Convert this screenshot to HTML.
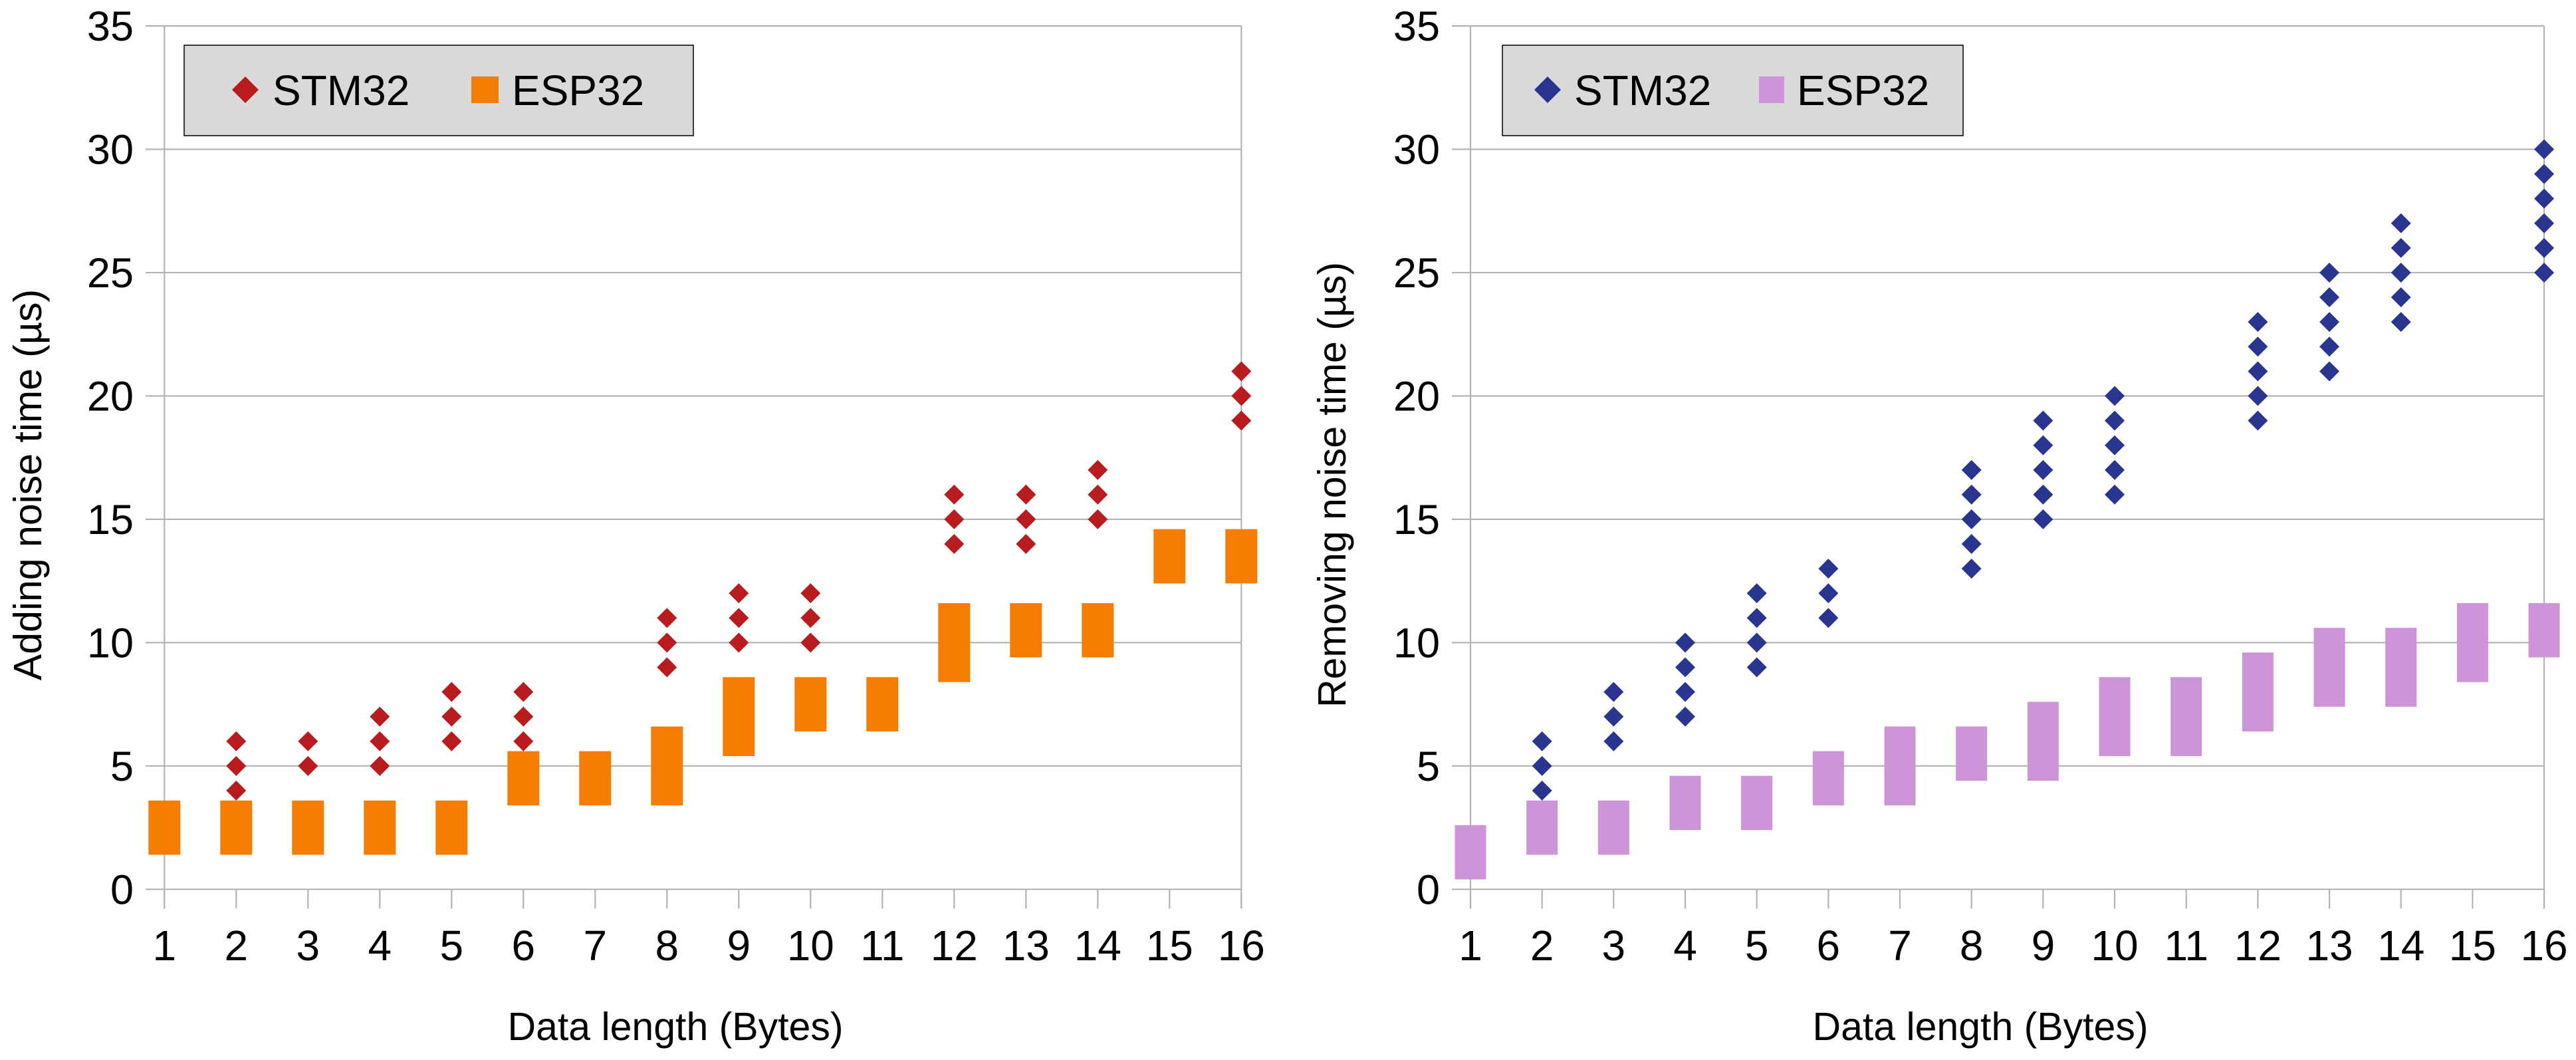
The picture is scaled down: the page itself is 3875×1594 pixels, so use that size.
<!DOCTYPE html>
<html><head><meta charset="utf-8"><style>
html,body{margin:0;padding:0;background:#fff}
svg{display:block;font-family:"Liberation Sans",sans-serif}
</style></head><body>
<svg id="s" width="3875" height="1594" viewBox="0 0 3875 1594"></svg>
<script>
const categories=[1,2,3,4,5,6,7,8,9,10,11,12,13,14,15,16];
const yTicks=[0,5,10,15,20,25,30,35];
const addEspLow=[1.4,1.4,1.4,1.4,1.4,3.4,3.4,3.4,5.4,6.4,6.4,8.4,9.4,9.4,12.4,12.4];
const addEspHigh=[3.6,3.6,3.6,3.6,3.6,5.6,5.6,6.6,8.6,8.6,8.6,11.6,11.6,11.6,14.6,14.6];
const addStm=[[],[4,5,6],[5,6],[5,6,7],[6,7,8],[6,7,8],[],[9,10,11],[10,11,12],[10,11,12],[],[14,15,16],[14,15,16],[15,16,17],[],[19,20,21]];
const remEspLow=[0.4,1.4,1.4,2.4,2.4,3.4,3.4,4.4,4.4,5.4,5.4,6.4,7.4,7.4,8.4,9.4];
const remEspHigh=[2.6,3.6,3.6,4.6,4.6,5.6,6.6,6.6,7.6,8.6,8.6,9.6,10.6,10.6,11.6,11.6];
const remStm=[[],[4,5,6],[6,7,8],[7,8,9,10],[9,10,11,12],[11,12,13],[],[13,14,15,16,17],[15,16,17,18,19],[16,17,18,19,20],[],[19,20,21,22,23],[21,22,23,24,25],[23,24,25,26,27],[],[25,26,27,28,29,30]];

const NS="http://www.w3.org/2000/svg";
const svg=document.getElementById('s');
function mk(tag,attrs,parent,text){const e=document.createElementNS(NS,tag);for(const k in attrs)e.setAttribute(k,attrs[k]);if(text!==undefined)e.textContent=text;(parent||svg).appendChild(e);return e;}

function chart(cfg){
  const g=mk('g',{});
  
  
  const y0=1337.3,y35=39;
  const ys=v=>y0-(v/35)*(y0-y35);
  const xs=i=>cfg.x1+(i-1)*cfg.step;
  const x16=xs(16);
  yTicks.forEach(t=>{
    const l=mk('line',{x1:cfg.gridStart,x2:x16,y1:ys(t),y2:ys(t),stroke:'#b3b3b3','stroke-width':2.2},g);
    
    
    const tx=mk('text',{x:cfg.gridStart-18,y:ys(t)+22,'text-anchor':'end','font-size':63,fill:'#000'},g,String(t));
    
    
  });
  mk('line',{x1:cfg.x1,x2:cfg.x1,y1:y35,y2:y0+29,stroke:'#b3b3b3','stroke-width':2.2},g);
  mk('line',{x1:x16,x2:x16,y1:y35,y2:y0+29,stroke:'#b3b3b3','stroke-width':2.2},g);
  categories.forEach(c=>{
    mk('line',{x1:xs(c),x2:xs(c),y1:y0,y2:y0+29,stroke:'#b3b3b3','stroke-width':2.2},g);
    const tx=mk('text',{x:xs(c),y:1444,'text-anchor':'middle','font-size':64,fill:'#000'},g,String(c));
    
    
  });
  categories.forEach((c,i)=>{
    const r=mk('rect',{x:xs(c)-cfg.bw/2,y:ys(cfg.hi[i]),width:cfg.bw,height:ys(cfg.lo[i])-ys(cfg.hi[i]),fill:cfg.espColor},g);
    
    
    cfg.stm[i].forEach(v=>{
      const d=15,cx=xs(c),cy=ys(v);
      const p=mk('polygon',{points:`${cx},${cy-d} ${cx+d},${cy} ${cx},${cy+d} ${cx-d},${cy}`,fill:cfg.stmColor},g);
      
      
    });
  });
  const yt=mk('text',{x:0,y:0,transform:`translate(${cfg.ytX},729) rotate(-90)`,'text-anchor':'middle','font-size':59,fill:'#000'},g,cfg.ytitle);
  
  
  const xt=mk('text',{x:cfg.xtX,y:1564,'text-anchor':'middle','font-size':59,fill:'#000'},g,'Data length (Bytes)');
  
  
  const L=cfg.leg;
  const lg=mk('g',{},g);
  
  
  mk('rect',{x:L.x,y:68,width:L.w,height:136,fill:'#d9d9d9',stroke:'#000','stroke-width':1.5},lg);
  const d=20;
  mk('polygon',{points:`${L.dx},${135-d} ${L.dx+d},135 ${L.dx},${135+d} ${L.dx-d},135`,fill:cfg.stmColor},lg);
  const t1=mk('text',{x:L.t1,y:158,'font-size':64,fill:'#000'},lg,'STM32');
  
  
  mk('rect',{x:L.sq,y:115,width:L.sqw,height:40,fill:cfg.espColor},lg);
  const t2=mk('text',{x:L.t2,y:158,'font-size':64,fill:'#000'},lg,'ESP32');
  
  
}
chart({name:'adding-noise-chart',x1:247.3,step:108,gridStart:219,bw:48,hi:addEspHigh,lo:addEspLow,stm:addStm,
  espColor:'#f57d02',stmColor:'#b81c1e',ytitle:'Adding noise time (µs)',ytX:62,xtX:1016,
  leg:{x:277,w:766,dx:369,t1:410,sq:709,sqw:41,t2:770}});
chart({name:'removing-noise-chart',x1:2212,step:107.67,gridStart:2184,bw:47,hi:remEspHigh,lo:remEspLow,stm:remStm,
  espColor:'#ce94d8',stmColor:'#2a3590',ytitle:'Removing noise time (µs)',ytX:2024,xtX:2979,
  leg:{x:2260,w:693,dx:2328,t1:2368,sq:2646,sqw:38,t2:2703}});
</script>
</body></html>
